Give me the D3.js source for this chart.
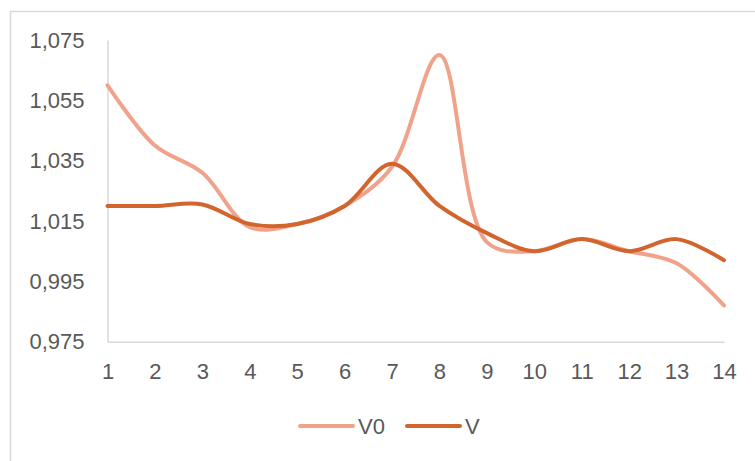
<!DOCTYPE html>
<html>
<head>
<meta charset="utf-8">
<script src="https://cdn.jsdelivr.net/npm/d3@7"></script>
<style>
  html, body { margin: 0; padding: 0; background: #fff; }
  svg { display: block; }
</style>
</head>
<body>
<svg id="chart" width="755" height="461"></svg>
<script>
// Category positions along the x axis
const categories = [1, 2, 3, 4, 5, 6, 7, 8, 9, 10, 11, 12, 13, 14];
// Series values
const seriesV0 = [1.060, 1.040, 1.031, 1.013, 1.014, 1.020, 1.033, 1.070, 1.008, 1.005, 1.009, 1.005, 1.001, 0.987];
const seriesV  = [1.020, 1.020, 1.0205, 1.014, 1.014, 1.020, 1.034, 1.020, 1.011, 1.005, 1.009, 1.005, 1.009, 1.002];
// Value axis ticks
const yTicks = [0.975, 0.995, 1.015, 1.035, 1.055, 1.075];
const seriesNames = ["V0", "V"];
const seriesColors = ["#F0A38A", "#D2652D"];

const svg = d3.select("#chart");
const fmt = v => d3.format(".3f")(v).replace(".", ",");

// Outer chart border
svg.append("rect")
  .attr("x", 10.5).attr("y", 11.5)
  .attr("width", 770).attr("height", 470)
  .attr("fill", "none").attr("stroke", "#d9d9d9").attr("stroke-width", 1.5);

const x = d3.scalePoint().domain(categories).range([107.5, 724]);
const y = d3.scaleLinear().domain([0.975, 1.075]).range([341.7, 40]);

const labelColor = "#595959";
const font = "'Liberation Sans', Arial, sans-serif";
const fontSize = "22px";

// Value axis
const yAxis = svg.append("g")
  .attr("transform", `translate(${x.range()[0]},0)`)
  .call(d3.axisLeft(y).tickValues(yTicks).tickFormat(fmt).tickSize(0).tickPadding(23));
yAxis.select(".domain").attr("stroke", "#d9d9d9").attr("stroke-width", 1.5);
yAxis.selectAll("text").attr("fill", labelColor).style("font-family", font).style("font-size", fontSize);

// Category axis
const xAxis = svg.append("g")
  .attr("transform", `translate(0,${y.range()[0]})`)
  .call(d3.axisBottom(x).tickSize(0).tickPadding(22));
xAxis.select(".domain").attr("stroke", "#d9d9d9").attr("stroke-width", 1.5);
xAxis.selectAll("text").attr("fill", labelColor).style("font-family", font).style("font-size", fontSize);

// Smoothed lines
const line = d3.line()
  .x((d, i) => x(categories[i]))
  .y(d => y(d))
  .curve(d3.curveCatmullRom.alpha(0.5));

[seriesV0, seriesV].forEach((s, k) => {
  svg.append("path")
    .datum(s)
    .attr("d", line)
    .attr("fill", "none")
    .attr("stroke", seriesColors[k])
    .attr("stroke-width", 4)
    .attr("stroke-linecap", "round")
    .attr("stroke-linejoin", "round");
});

// Legend
const legendX = [300, 407];
const legendY = 426;
seriesNames.forEach((name, k) => {
  const g = svg.append("g").attr("transform", `translate(${legendX[k]},${legendY})`);
  g.append("line")
    .attr("x1", 0).attr("x2", 53).attr("y1", 0).attr("y2", 0)
    .attr("stroke", seriesColors[k]).attr("stroke-width", 4).attr("stroke-linecap", "round");
  g.append("text")
    .attr("x", 58).attr("y", 0).attr("dy", "0.35em")
    .attr("fill", labelColor)
    .style("font-family", font).style("font-size", fontSize)
    .text(name);
});
</script>
</body>
</html>
